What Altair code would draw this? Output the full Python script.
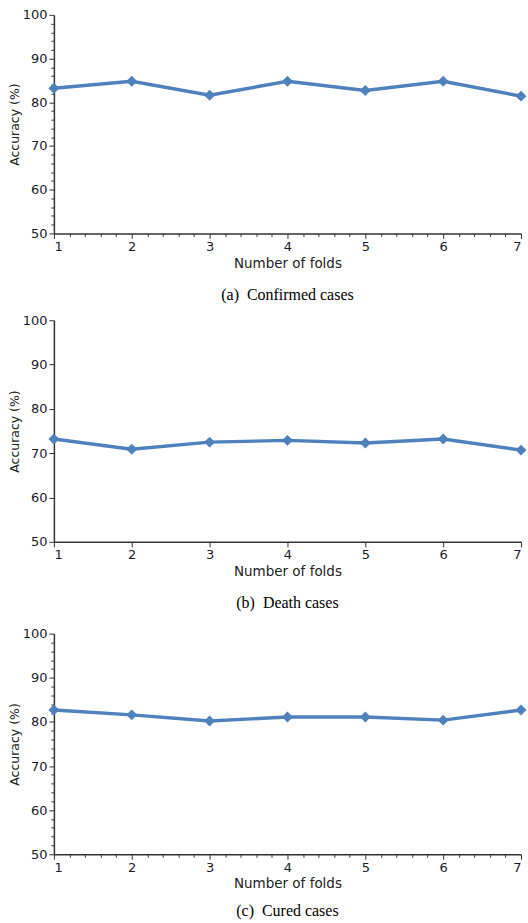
import altair as alt
import pandas as pd

folds = [1, 2, 3, 4, 5, 6, 7]
confirmed = [83.2, 84.8, 81.6, 84.8, 82.7, 84.8, 81.4]
death = [73.2, 70.9, 72.5, 72.9, 72.3, 73.2, 70.7]
cured = [82.7, 81.6, 80.2, 81.1, 81.1, 80.4, 82.7]

captions = ["(a)\u00a0 Confirmed cases", "(b)\u00a0 Death cases", "(c)\u00a0 Cured cases"]
minor_flags = [True, False, True]
heights = [219, 222, 221]
x_title_pads = [3, 3, 2]
caption_offsets = [17, 17, 13]

COLOR = "#4f81bd"
SANS = "DejaVu Sans"


def panel(values, caption, minor, h, xtp, co):
    df = pd.DataFrame({"fold": folds, "acc": values})
    if minor:
        xvals = [round(1 + 0.2 * i, 1) for i in range(31)]
        yvals = list(range(50, 101, 2))
    else:
        xvals = folds
        yvals = list(range(50, 101, 10))
    xaxis = alt.Axis(
        values=xvals,
        format=".0f",
        title="Number of folds",
        labelExpr="abs(datum.value - round(datum.value)) < 0.001 ? datum.label : ''",
        tickSize={"condition": {"test": "abs(datum.value - round(datum.value)) < 0.001", "value": 5}, "value": 3},
        labelPadding=2,
        titlePadding=xtp,
        titleFontSize=13.5,
    )
    yaxis = alt.Axis(
        values=yvals,
        format=".0f",
        title="Accuracy (%)",
        labelExpr="datum.value % 10 === 0 ? datum.label : ''",
        tickSize={"condition": {"test": "datum.value % 10 === 0", "value": 5}, "value": 3},
        labelPadding=2,
        titlePadding=1,
        titleFontSize=12.5,
    )
    x = alt.X("fold:Q", scale=alt.Scale(domain=[1, 7], nice=False, zero=False), axis=xaxis)
    y = alt.Y("acc:Q", scale=alt.Scale(domain=[50, 100], nice=False, zero=False), axis=yaxis)
    base = alt.Chart(df)
    line = base.mark_line(color=COLOR, strokeWidth=3.4).encode(x=x, y=y)
    pts = base.mark_point(shape="diamond", filled=True, color=COLOR, size=120, opacity=1).encode(x=x, y=y)
    return (line + pts).properties(
        width=468,
        height=h,
        title=alt.TitleParams(
            caption, orient="bottom", font="Liberation Serif", fontSize=16,
            fontWeight="normal", color="#000", offset=co, anchor="middle",
        ),
    )


pa, pb, pc = [
    panel(v, c, m, h, t, o)
    for v, c, m, h, t, o in zip([confirmed, death, cured], captions, minor_flags, heights, x_title_pads, caption_offsets)
]

chart = alt.vconcat(pa, alt.vconcat(pb, pc, spacing=16), spacing=11).properties(
    padding={"left": 8, "top": 8, "right": 0, "bottom": 0},
).configure_view(stroke=None).configure_axis(
    grid=False,
    domainColor="#333",
    domainWidth=1.5,
    tickColor="#333",
    tickWidth=1,
    labelFont=SANS,
    labelFontSize=13,
    labelColor="#1a1a2a",
    titleFont=SANS,
    titleFontWeight="normal",
    titleColor="#222",
)

chart.save("out.html", embed_options={"renderer": "svg", "actions": False})
